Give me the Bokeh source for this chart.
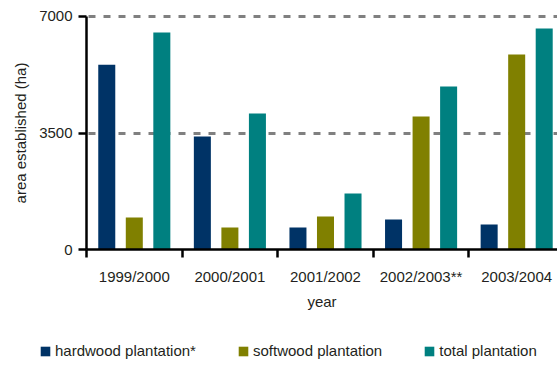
import numpy as np
from bokeh.plotting import figure
from bokeh.models import (ColumnDataSource, Range1d, FixedTicker, Legend, LegendItem, Grid)
from bokeh.transform import dodge
from bokeh.embed import file_html
from bokeh.resources import INLINE

# Plantation area established per year (ha)
years = ["1999/2000", "2000/2001", "2001/2002", "2002/2003**", "2003/2004"]
hardwood = [5550, 3400, 670, 910, 760]
softwood = [970, 670, 1000, 4000, 5860]
total = [6520, 4090, 1690, 4900, 6640]
y_ticks = [0, 3500, 7000]

FONT = "Liberation Sans"
FS = "15px"
TEXT = "#231f20"
NAVY, OLIVE, TEAL = "#003366", "#808000", "#008080"

X_END = 4.927      # visible part of the last category
Y_TOP = 7000

centers = np.arange(len(years)) + 0.5
src = ColumnDataSource(dict(x=centers, hardwood=hardwood, softwood=softwood, total=total))

# The frame fills the whole canvas; axes sit at fixed data locations so that
# the legend below the axis is still inside the drawing area.
p = figure(width=557, height=365, output_backend="svg", toolbar_location=None,
           x_range=Range1d(-0.8996, X_END), y_range=Range1d(-3471, 7479))
p.min_border = 0
p.outline_line_color = None
p.background_fill_color = "white"
p.border_fill_color = "white"

w = 0.178
off = 0.288
r1 = p.vbar(x=dodge("x", -off, range=p.x_range), top="hardwood", width=w, source=src,
            fill_color=NAVY, line_color=None)
r2 = p.vbar(x=dodge("x", 0.0, range=p.x_range), top="softwood", width=w, source=src,
            fill_color=OLIVE, line_color=None)
r3 = p.vbar(x=dodge("x", off, range=p.x_range), top="total", width=w, source=src,
            fill_color=TEAL, line_color=None)

# x axis: category labels at centres, boundary marks as minor ticks
xa = p.xaxis[0]
xa.fixed_location = 0
xa.bounds = (0, X_END)
xa.ticker = FixedTicker(ticks=list(centers), minor_ticks=list(range(len(years) + 1)))
xa.major_label_overrides = {float(c): y for c, y in zip(centers, years)}
xa.major_tick_line_color = None
xa.major_tick_out = 8
xa.major_tick_in = 0
xa.minor_tick_out = 8
xa.minor_tick_in = 0
xa.minor_tick_line_color = "black"
xa.minor_tick_line_width = 2.5
xa.axis_line_color = "black"
xa.axis_line_width = 2.5
xa.major_label_standoff = 10
xa.major_label_text_font = FONT
xa.major_label_text_font_size = FS
xa.major_label_text_color = TEXT
xa.axis_label = "year"
xa.axis_label_text_font = FONT
xa.axis_label_text_font_size = FS
xa.axis_label_text_font_style = "normal"
xa.axis_label_text_color = TEXT
xa.axis_label_standoff = 5

ya = p.yaxis[0]
ya.fixed_location = 0
ya.bounds = (0, Y_TOP)
ya.ticker = FixedTicker(ticks=y_ticks)
ya.minor_tick_line_color = None
ya.major_tick_out = 8
ya.major_tick_in = 0
ya.major_tick_line_width = 2.5
ya.major_tick_line_color = "black"
ya.axis_line_color = "black"
ya.axis_line_width = 2.5
ya.major_label_standoff = 6
ya.major_label_text_font = FONT
ya.major_label_text_font_size = FS
ya.major_label_text_color = TEXT
ya.axis_label = "area established (ha)"
ya.axis_label_text_font = FONT
ya.axis_label_text_font_size = FS
ya.axis_label_text_font_style = "normal"
ya.axis_label_text_color = TEXT
ya.axis_label_standoff = 7

p.xgrid.grid_line_color = None
grid_style = dict(line_color="#808080", line_width=3, line_dash="7 8", line_dash_offset=13)
if "cross_bounds" in Grid.properties():
    p.ygrid.ticker = FixedTicker(ticks=y_ticks[1:])
    p.ygrid.cross_bounds = (0, X_END)
    p.ygrid.grid_line_color = grid_style["line_color"]
    p.ygrid.grid_line_width = grid_style["line_width"]
    p.ygrid.grid_line_dash = grid_style["line_dash"]
    p.ygrid.grid_line_dash_offset = grid_style["line_dash_offset"]
else:
    p.ygrid.grid_line_color = None
    gy = y_ticks[1:]
    p.segment(x0=[0] * len(gy), x1=[X_END] * len(gy), y0=gy, y1=gy, level="underlay", **grid_style)

legend = Legend(items=[
    LegendItem(label="hardwood plantation*", renderers=[r1]),
    LegendItem(label="softwood plantation", renderers=[r2]),
    LegendItem(label="total plantation", renderers=[r3]),
], orientation="horizontal", location=(39, 6), spacing=41,
    glyph_width=12, glyph_height=12, label_standoff=4, padding=0, margin=0,
    border_line_color=None, background_fill_alpha=0,
    label_text_font=FONT, label_text_font_size=FS, label_text_color=TEXT)
p.add_layout(legend, "center")

open("out.html", "w").write(file_html(p, INLINE))
